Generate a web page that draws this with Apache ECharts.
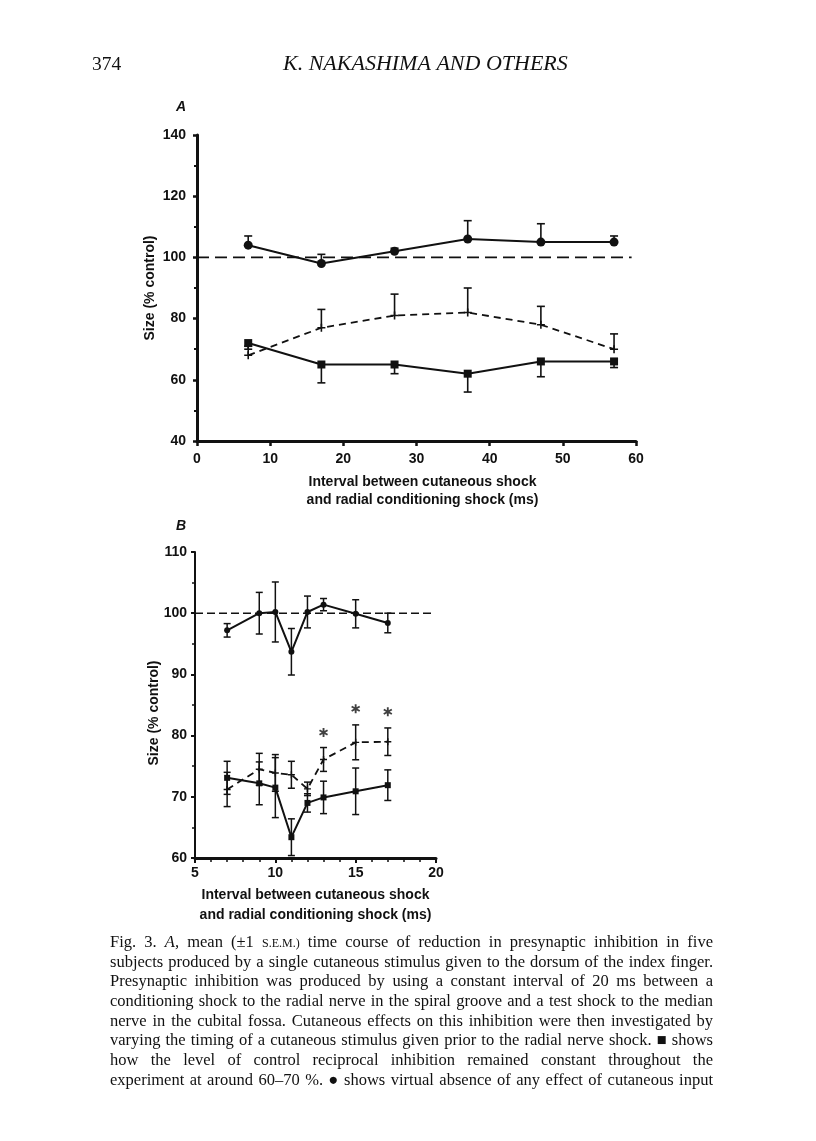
<!DOCTYPE html>
<html><head><meta charset="utf-8">
<script src="https://cdn.jsdelivr.net/npm/echarts/dist/echarts.min.js"></script>
<style>html,body{margin:0;padding:0;background:#fff}#c{width:816px;height:1141px}</style>
</head><body><div id="c"></div>
<script>
// ---------- Panel A data ----------
const xA = [7, 17, 27, 37, 47, 57];
const circleA = [104, 98, 102, 106, 105, 105];
const circleErrA = [3, 3, 1, 6, 6, 2];      // upward
const plusA = [68, 77, 81, 82, 78, 70];
const plusErrA = [3, 6, 7, 8, 6, 5];        // upward
const squareA = [72, 65, 65, 62, 66, 66];
const squareErrA = [2, 6, 3, 6, 5, 2];      // downward

// ---------- Panel B data ----------
const xB = [7, 9, 10, 11, 12, 13, 15, 17];
const circleB = [97.2, 100.0, 100.2, 93.7, 100.2, 101.4, 99.9, 98.4];
const circleErrB = [1.1, 3.4, 4.9, 3.8, 2.6, 1.0, 2.3, 1.6];
const plusB = [71.2, 74.5, 73.9, 73.6, 71.3, 76.1, 78.9, 79.0];
const plusErrB = [2.8, 2.6, 3.0, 2.2, 1.1, 1.95, 2.85, 2.25];
const squareB = [73.1, 72.2, 71.5, 63.4, 69.0, 69.9, 70.9, 71.9];
const squareErrB = [2.7, 3.5, 4.9, 3.0, 1.5, 2.65, 3.8, 2.5];
const starX = [13, 15, 17];
const starY = [80.5, 84.4, 83.9];

// ---------- Texts ----------
const header = ['374', 'K. NAKASHIMA AND OTHERS'];
const xName = 'Interval between cutaneous shock\nand radial conditioning shock (ms)';
const yName = 'Size (% control)';
const captionLines = [
  'Fig. 3. A, mean (\u00b11 S.E.M.) time course of reduction in presynaptic inhibition in five',
  'subjects produced by a single cutaneous stimulus given to the dorsum of the index finger.',
  'Presynaptic inhibition was produced by using a constant interval of 20 ms between a',
  'conditioning shock to the radial nerve in the spiral groove and a test shock to the median',
  'nerve in the cubital fossa. Cutaneous effects on this inhibition were then investigated by',
  'varying the timing of a cutaneous stimulus given prior to the radial nerve shock. \u25a0 shows',
  'how the level of control reciprocal inhibition remained constant throughout the',
  'experiment at around 60\u201370 %. \u25cf shows virtual absence of any effect of cutaneous input'
];

const INK = '#111';
const PLUS = 'path://M-1,-5L1,-5L1,-1L5,-1L5,1L1,1L1,5L-1,5L-1,1L-5,1L-5,-1L-1,-1Z';
const STAR = 'path://M-1,-5L1,-5L1,5L-1,5Z M3.83,-3.366L4.83,-1.634L-3.83,3.366L-4.83,1.634Z M-4.83,-1.634L-3.83,-3.366L4.83,1.634L3.83,3.366Z';

function pts(xs, ys) { return xs.map((x, i) => [x, ys[i]]); }

function errSeries(gi, xs, ys, errs, dir, cap, lw) {
  const data = xs.map((x, i) => {
    const lo = dir > 0 ? ys[i] : ys[i] - errs[i];
    const hi = dir < 0 ? ys[i] : ys[i] + errs[i];
    return [x, lo, hi];
  });
  return {
    type: 'custom', xAxisIndex: gi, yAxisIndex: gi, data, silent: true, z: 3,
    encode: { x: 0, y: [1, 2] },
    renderItem: (params, api) => {
      const x = api.value(0), lo = api.value(1), hi = api.value(2);
      const p1 = api.coord([x, lo]), p2 = api.coord([x, hi]);
      const style = { stroke: INK, lineWidth: lw, fill: null };
      const ch = [{ type: 'line', shape: { x1: p1[0], y1: p1[1], x2: p2[0], y2: p2[1] }, style }];
      if (dir >= 0) ch.push({ type: 'line', shape: { x1: p2[0] - cap, y1: p2[1], x2: p2[0] + cap, y2: p2[1] }, style });
      if (dir <= 0) ch.push({ type: 'line', shape: { x1: p1[0] - cap, y1: p1[1], x2: p1[0] + cap, y2: p1[1] }, style });
      return { type: 'group', children: ch };
    }
  };
}

function lineSeries(gi, data, symbol, size, dashed) {
  return {
    type: 'line', xAxisIndex: gi, yAxisIndex: gi, data, symbol, symbolSize: size,
    lineStyle: { color: INK, width: dashed ? 1.8 : 2, type: dashed ? [7, 5] : 'solid' },
    itemStyle: { color: INK }, z: 4, silent: true
  };
}

function refSeries(gi, x0, x1, dash) {
  return {
    type: 'line', xAxisIndex: gi, yAxisIndex: gi, data: [[x0, 100], [x1, 100]], symbol: 'none',
    lineStyle: { color: INK, width: 1.6, type: dash }, z: 2, silent: true
  };
}

const labelFont = { fontFamily: 'Liberation Sans, Arial, sans-serif', fontWeight: 'bold', fontSize: 14, color: INK };

// ---------- Caption (justified word by word) ----------
const mctx = document.createElement('canvas').getContext('2d');
const CAP_L = 110, CAP_R = 713, CAP_BASE = 951, CAP_LH = 19.7, CAP_FS = 16.5;
function wordStyle(w) {
  if (w === 'A,') return { fontStyle: 'italic', fontSize: CAP_FS };
  if (w === 'S.E.M.)') return { fontStyle: 'normal', fontSize: 12 };
  return { fontStyle: 'normal', fontSize: CAP_FS };
}
const captionEls = [];
captionLines.forEach((line, li) => {
  const words = line.split(' ');
  const ws = words.map(w => {
    const s = wordStyle(w);
    mctx.font = s.fontStyle + ' ' + s.fontSize + 'px "Liberation Serif"';
    return mctx.measureText(w).width;
  });
  const total = ws.reduce((a, b) => a + b, 0);
  const gap = (CAP_R - CAP_L - total) / (words.length - 1);
  let x = CAP_L;
  words.forEach((w, i) => {
    const s = wordStyle(w);
    captionEls.push({
      type: 'text', x: x, y: CAP_BASE + li * CAP_LH + (s.fontSize < CAP_FS ? -(CAP_FS - s.fontSize) * 0.22 : 0), silent: true,
      style: { text: w, fontFamily: 'Liberation Serif', fontSize: s.fontSize, fontStyle: s.fontStyle, fill: INK,
               align: 'left', verticalAlign: 'bottom' }
    });
    x += ws[i] + gap;
  });
});

const option = {
  animation: false,
  backgroundColor: '#fff',
  grid: [
    { left: 197, top: 135, width: 439, height: 306 },
    { left: 195, top: 552, width: 241, height: 306 }
  ],
  xAxis: [
    {
      gridIndex: 0, type: 'value', min: 0, max: 60, interval: 10,
      axisLine: { lineStyle: { color: INK, width: 3 } },
      axisTick: { show: true, length: 5, lineStyle: { color: INK, width: 2.5 } },
      splitLine: { show: false },
      axisLabel: Object.assign({ margin: 11 }, labelFont),
      name: xName, nameLocation: 'middle', nameGap: 32,
      nameTextStyle: Object.assign({ lineHeight: 18, padding: [0, 0, 0, 12] }, labelFont)
    },
    {
      gridIndex: 1, type: 'value', min: 5, max: 20, interval: 5,
      axisLine: { lineStyle: { color: INK, width: 3 } },
      axisTick: { show: true, length: 5, lineStyle: { color: INK, width: 2 } },
      minorTick: { show: true, splitNumber: 5, length: 4, lineStyle: { color: INK, width: 1.5 } },
      splitLine: { show: false },
      axisLabel: Object.assign({ margin: 8 }, labelFont),
      name: xName, nameLocation: 'middle', nameGap: 27,
      nameTextStyle: Object.assign({ lineHeight: 20 }, labelFont)
    }
  ],
  yAxis: [
    {
      gridIndex: 0, type: 'value', min: 40, max: 140, interval: 20,
      axisLine: { show: true, lineStyle: { color: INK, width: 3 } },
      axisTick: { show: true, length: 4, lineStyle: { color: INK, width: 2.5 } },
      minorTick: { show: true, splitNumber: 2, length: 3, lineStyle: { color: INK, width: 2 } },
      splitLine: { show: false },
      axisLabel: Object.assign({ margin: 11 }, labelFont),
      name: yName, nameLocation: 'middle', nameGap: 40, nameRotate: 90, nameMoveOverlap: false,
      nameTextStyle: labelFont
    },
    {
      gridIndex: 1, type: 'value', min: 60, max: 110, interval: 10,
      axisLine: { show: true, lineStyle: { color: INK, width: 2 } },
      axisTick: { show: true, length: 4, lineStyle: { color: INK, width: 2 } },
      minorTick: { show: true, splitNumber: 2, length: 3, lineStyle: { color: INK, width: 1.5 } },
      splitLine: { show: false },
      axisLabel: Object.assign({ margin: 8 }, labelFont),
      name: yName, nameLocation: 'middle', nameGap: 34, nameRotate: 90, nameMoveOverlap: false,
      nameTextStyle: Object.assign({ padding: [0, 16, 0, 0] }, labelFont)
    }
  ],
  series: [
    refSeries(0, 0, 59.4, [12, 6]),
    errSeries(0, xA, circleA, circleErrA, 1, 4, 1.6),
    errSeries(0, xA, plusA, plusErrA, 1, 4, 1.6),
    errSeries(0, xA, squareA, squareErrA, -1, 4, 1.6),
    lineSeries(0, pts(xA, circleA), 'circle', 9, false),
    lineSeries(0, pts(xA, plusA), PLUS, 8, true),
    lineSeries(0, pts(xA, squareA), 'rect', 8, false),

    refSeries(1, 5, 19.75, [8, 4]),
    errSeries(1, xB, circleB, circleErrB, 0, 3.5, 1.5),
    errSeries(1, xB, plusB, plusErrB, 0, 3.5, 1.5),
    errSeries(1, xB, squareB, squareErrB, 0, 3.5, 1.5),
    lineSeries(1, pts(xB, circleB), 'circle', 6, false),
    lineSeries(1, pts(xB, plusB), PLUS, 7, true),
    lineSeries(1, pts(xB, squareB), 'rect', 6, false),
    {
      type: 'scatter', xAxisIndex: 1, yAxisIndex: 1, data: pts(starX, starY),
      symbol: STAR, symbolSize: 9, itemStyle: { color: INK }, silent: true, z: 5
    }
  ],
  graphic: [
    { type: 'text', left: 92, top: 55, silent: true,
      style: { text: header[0], fontFamily: 'Liberation Serif', fontSize: 19.5, fill: INK } },
    { type: 'text', left: 283, top: 53, silent: true,
      style: { text: header[1], fontFamily: 'Liberation Serif', fontStyle: 'italic', fontSize: 22, fill: INK } },
    { type: 'text', left: 176, top: 100, silent: true,
      style: { text: 'A', fontFamily: 'Liberation Sans', fontStyle: 'italic', fontWeight: 'bold', fontSize: 14, fill: INK } },
    { type: 'text', left: 176, top: 519, silent: true,
      style: { text: 'B', fontFamily: 'Liberation Sans', fontStyle: 'italic', fontWeight: 'bold', fontSize: 14, fill: INK } }
  ].concat(captionEls)
};

const chart = echarts.init(document.getElementById('c'), null, { renderer: 'canvas' });
chart.setOption(option);
</script>
</body></html>
